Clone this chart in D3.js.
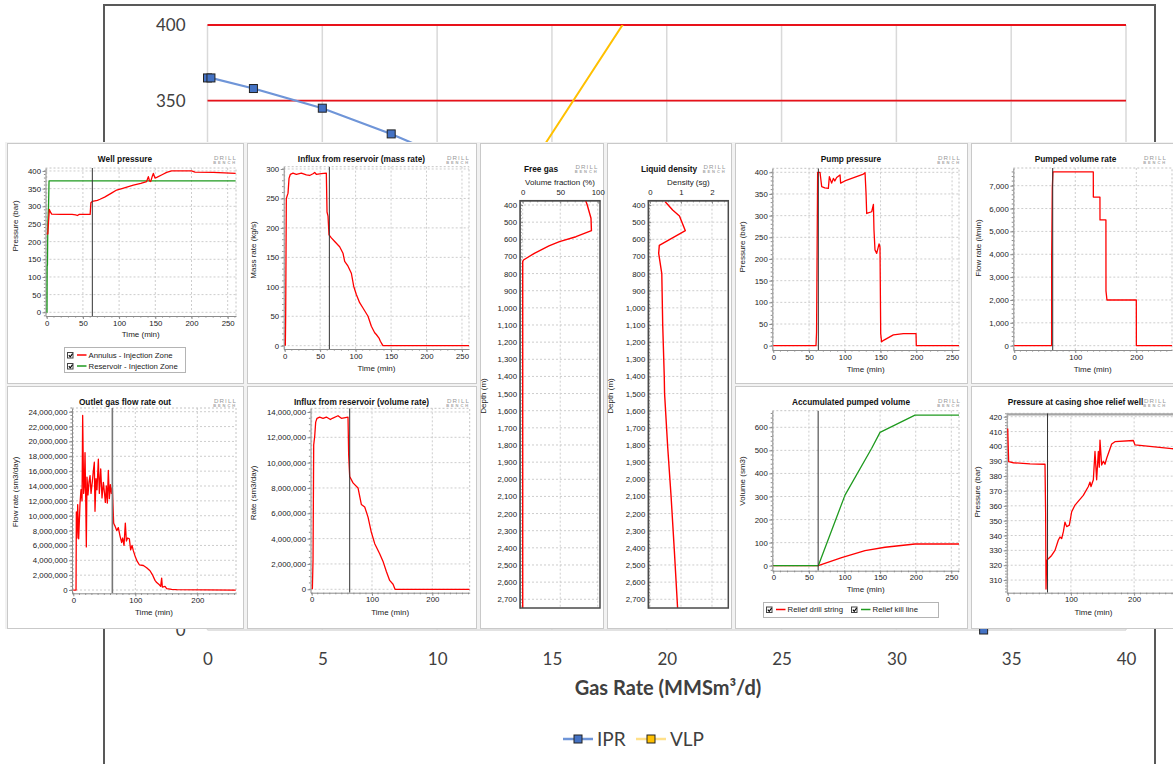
<!DOCTYPE html>
<html>
<head>
<meta charset="utf-8">
<script src="https://cdn.jsdelivr.net/npm/d3@7"></script>
<style>
  html, body { margin: 0; padding: 0; background: #fff; }
  svg { display: block; }
</style>
</head>
<body>
<svg id="chart" width="1173" height="764"></svg>
<script>
// ---- background IPR / VLP chart ----
const iprRate = [0, 0.15, 2, 5, 8, 12, 16, 20, 24, 28, 31, 33.8];
const iprPressure = [365, 365, 358, 345, 328, 302, 272, 237, 196, 145, 95, 0];
const vlpRate = [8, 11, 14, 20];
const vlpPressure = [170, 235, 305, 445];
const limitPressures = [350, 400];
const rateTicks = d3.range(0, 41, 5);
const pressureTicks = d3.range(0, 401, 50);
const pressureLabels = [0, 350, 400]; // the only ones not covered by the panels

// ---- simulator panels: [time (min), value] ----
const markerTime = 63;
const wellAnnulus = [[0,221],[1.5,222],[2.3,250],[3.6,291],[5,284],[6.9,278],[20,277],[35,277],[40,276],[42.3,274],[45,277],[60,277],[61,310],[63,314],[70,317],[73.6,320],[80,326],[90,338],[96.6,346],[105,351],[119.7,360],[130,365],[138,370],[140.4,384],[142,372],[143.6,370],[146,386],[147.3,393],[149.6,380],[152,382],[160,390],[165.7,396],[172.6,400],[200.2,400],[204.8,397],[230,396],[261,393]];
const wellReservoir = [[0,0],[0.4,0],[0.6,130],[1,135],[1.5,250],[2.5,300],[3.2,372],[261,372]];
const influxMass = [[0.9,0],[1.4,52],[2.3,250],[4.7,259],[6.1,284],[8,291],[11.7,293],[16.4,291],[23.5,293],[30.5,290],[35.2,289],[39.9,292],[42.3,294],[44.6,291],[51.7,292],[58.7,293],[59.7,227],[61.1,220],[62.5,188],[65.8,183],[70.5,177],[77.5,168],[82.2,157],[84.6,143],[89.3,135],[94,123],[97.3,101],[101,87],[105.7,73],[110.4,64],[117.5,50],[122.2,33],[126.9,22],[129.2,19],[133,13],[134.9,7.5],[137.7,1.8],[138.6,0],[260,0]];
const pumpPressure = [[0,0],[59.7,0],[60.5,31],[62,400],[65.3,400],[67.7,367],[72,364],[77,363],[78.4,390],[81.6,375],[84,386],[86,380],[88.6,388],[93.3,394],[94.2,375],[100,380],[126,396],[128.3,399],[129.7,351],[130.6,305],[137.6,309],[140,326],[140.8,267],[142.2,221],[144.6,213],[147.9,235],[149.2,228],[150.2,28],[151.5,9],[154.8,13],[167.9,25],[181.9,28],[199.6,28],[200,0],[260,0]];
const pumpedRate = [[0,0],[61.2,0],[61.3,3900],[62.3,6900],[63.4,7600],[129.5,7600],[129.6,6500],[140.4,6500],[140.5,5500],[150.2,5500],[150.3,2400],[151.9,2000],[200,2000],[200.1,0],[260,0]];
// outlet gas and influx volume rate in million sm3/day
const outletGas = [[0,0],[4.4,0],[4.9,10.5],[6,7],[7.1,11.5],[8.7,6.9],[10.8,11.6],[12.4,13.5],[14.1,12],[15.1,23.5],[16.7,13],[17.8,14],[18.9,18.5],[20,12.5],[21,5.8],[22.1,15.2],[23.7,12.8],[25.3,14.5],[27,15.4],[28.6,13],[30.7,14.6],[32.3,16],[33.9,17.2],[35,10.6],[36.6,15],[38.2,13.5],[40.4,17.6],[42,13],[44.2,16.3],[46.3,12.4],[48.5,14.5],[50.1,13.2],[51.7,11.8],[53.3,14],[54.9,11.7],[56.5,16.1],[58.1,12.3],[59.8,14.2],[61.4,13],[63,13.8],[64,11.4],[65.1,9],[67.3,8.6],[70,8],[72.6,8.4],[75.3,7.3],[78,6.4],[79.6,7],[81.8,6],[83.9,9],[85.6,6.6],[87.7,7],[90.4,6.9],[92.5,5.4],[94.7,6],[96.8,5.3],[99.5,4.6],[102.2,4],[106.5,3.4],[113,3.3],[118.3,3],[123.7,2.6],[128,2],[131.8,1.3],[134.5,1],[138.8,0.7],[140.9,0.5],[142.5,1.6],[143.6,0.4],[147.9,0.5],[150.6,0.2],[158.7,0.1],[166.7,0.05],[262,0]];
const influxVolume = [[1.1,0],[2.2,2.3],[3.3,11.4],[5,12.1],[6.6,13.2],[8.8,13.5],[13.2,13.6],[18.8,13.5],[24.3,13.6],[31,13.4],[34.2,13.5],[43.6,13.7],[49.2,13.5],[60.2,13.6],[61.3,10.6],[63,8.9],[68.5,8.4],[76.8,8],[82.3,6.7],[87.9,6.5],[93.4,5.7],[98.9,4.5],[104.5,3.6],[112.7,2.8],[118.3,2.2],[123.8,1.4],[129.3,0.7],[134.9,0.4],[138.2,0],[262,0]];
const accDrillString = [[0,0],[63.2,0],[96,35],[128.8,65],[156.9,80],[199,94],[261,94]];
const accKillLine = [[0,0],[63.2,0],[100.7,306],[138.2,509],[149.9,578],[199,653],[261,653]];
const casingShoe = [[0,412],[1.5,389.7],[8.9,389],[35.3,388.2],[59,388],[60,355],[60.6,304],[61.6,323],[64.3,324.4],[69.5,326.6],[74.8,330],[80,336.8],[82.7,339],[85.4,338],[88,342.4],[90.6,349],[93.3,346],[97.5,347],[101.2,356],[106.5,360.5],[119.6,367],[127.6,373],[130.2,376],[131.8,373],[135.5,377.5],[138.1,396.6],[140.7,377.5],[143.4,396.6],[144.9,386],[146,404.3],[148.6,387.5],[151.3,390],[153.9,388],[156.6,392],[164.5,401.6],[169.7,403.2],[198.8,404],[201.4,401],[259.4,398.5],[272,398]];
const casingLimit = 421.6;
// depth profiles: [depth (m), value]
const freeGas = [[375,84],[400,86],[477,91],[550,91.6],[585,71],[614,49],[639,35],[682,15.5],[721,1],[730,0],[2751,0]];
const liquidDensity = [[381,0.49],[429,0.73],[464,0.95],[550,1.14],[635,0.3],[682,0.28],[800,0.38],[1100,0.41],[1400,0.46],[1500,0.47],[1810,0.57],[2100,0.68],[2400,0.78],[2751,0.89]];

const RED = "#ff0000", GREEN = "#1f9a1f";
const svg = d3.select("#chart");
const panelFont = "'Liberation Sans', Arial, sans-serif";
const bgFont = "Lato, 'Open Sans', sans-serif";
const comma = d3.format(",");

// ================= background chart =================
const bx = d3.scaleLinear().domain([0, 40]).range([207.5, 1126]);
const by = d3.scaleLinear().domain([0, 400]).range([630, 25]);

svg.append("rect").attr("x", 104).attr("y", 5).attr("width", 1051).attr("height", 800)
    .attr("fill", "#fff").attr("stroke", "#595959").attr("stroke-width", 2);

const bg = svg.append("g");
bg.append("g").selectAll("line").data(rateTicks).join("line")
    .attr("x1", d => bx(d)).attr("x2", d => bx(d)).attr("y1", by(400)).attr("y2", by(0))
    .attr("stroke", "#d9d9d9").attr("stroke-width", 1.5);
bg.append("g").selectAll("line").data(pressureTicks).join("line")
    .attr("x1", bx(0)).attr("x2", bx(40)).attr("y1", d => by(d)).attr("y2", d => by(d))
    .attr("stroke", "#d9d9d9").attr("stroke-width", 1.5);
bg.append("g").selectAll("line").data(limitPressures).join("line")
    .attr("x1", bx(0)).attr("x2", bx(40)).attr("y1", d => by(d)).attr("y2", d => by(d))
    .attr("stroke", "#e8121a").attr("stroke-width", 1.8);

bg.append("g").attr("transform", `translate(${bx(0)},0)`)
    .call(d3.axisLeft(by).tickValues(pressureLabels).tickSize(0).tickPadding(22))
    .call(g => g.select(".domain").remove())
    .call(g => g.selectAll("text").attr("font-family", bgFont).attr("font-size", 17).attr("fill", "#404040"));
bg.append("g").attr("transform", `translate(0,${by(0)})`)
    .call(d3.axisBottom(bx).tickValues(rateTicks).tickSize(0).tickPadding(23))
    .call(g => g.select(".domain").remove())
    .call(g => g.selectAll("text").attr("font-family", bgFont).attr("font-size", 17).attr("fill", "#404040"));
bg.append("text").attr("x", 668).attr("y", 695).attr("text-anchor", "middle")
    .attr("font-family", bgFont).attr("font-size", 20).attr("font-weight", "bold").attr("fill", "#404040")
    .text("Gas Rate (MMSm³/d)");

bg.append("clipPath").attr("id", "bgclip").append("rect")
    .attr("x", bx(0) - 6).attr("y", by(400)).attr("width", bx(40) - bx(0) + 12).attr("height", by(0) - by(400) + 6);
const bgPlot = bg.append("g").attr("clip-path", "url(#bgclip)");
const ipr = iprRate.map((q, i) => [q, iprPressure[i]]);
const vlp = vlpRate.map((q, i) => [q, vlpPressure[i]]);
const bline = d3.line().x(d => bx(d[0])).y(d => by(d[1]));
bgPlot.append("path").attr("d", bline(vlp)).attr("fill", "none").attr("stroke", "#ffc000").attr("stroke-width", 2);
bgPlot.append("path").attr("d", bline(ipr)).attr("fill", "none").attr("stroke", "#6f95d8").attr("stroke-width", 2.2);
bgPlot.selectAll(".vm").data(vlp).join("rect").attr("class", "vm")
    .attr("x", d => bx(d[0]) - 4).attr("y", d => by(d[1]) - 4).attr("width", 8).attr("height", 8)
    .attr("fill", "#ffc000").attr("stroke", "#222");
bgPlot.selectAll(".im").data(ipr).join("rect").attr("class", "im")
    .attr("x", d => bx(d[0]) - 4).attr("y", d => by(d[1]) - 4).attr("width", 8).attr("height", 8)
    .attr("fill", "#4472c4").attr("stroke", "#222");

// legend
const bleg = bg.append("g").attr("font-family", bgFont).attr("font-size", 19).attr("fill", "#404040");
[["IPR", "#6f95d8", "#4472c4", 563], ["VLP", "#ffe08a", "#ffc000", 636]].forEach(([name, lc, mc, x0]) => {
    bleg.append("line").attr("x1", x0).attr("x2", x0 + 30).attr("y1", 739).attr("y2", 739)
        .attr("stroke", lc).attr("stroke-width", 2.5);
    bleg.append("rect").attr("x", x0 + 11).attr("y", 735).attr("width", 8).attr("height", 8)
        .attr("fill", mc).attr("stroke", "#222");
    bleg.append("text").attr("x", x0 + 34).attr("y", 746).text(name);
});

// ================= panels =================
// backing sheet behind the simulator screenshots
svg.append("rect").attr("x", 5).attr("y", 142).attr("width", 1170).attr("height", 487).attr("fill", "#f2f2f2");

function tile(g, t) {
    g.append("rect").attr("x", t[0] + 0.5).attr("y", t[1] + 0.5)
        .attr("width", t[2] - t[0]).attr("height", t[3] - t[1])
        .attr("fill", "#fff").attr("stroke", "#c9c9c9");
}

function logo(g, xr, y) {
    g.append("text").attr("x", xr).attr("y", y).attr("text-anchor", "end")
        .attr("font-size", 6.2).attr("letter-spacing", 1.1).attr("fill", "#9a9a9a").text("DRILL");
    g.append("text").attr("x", xr).attr("y", y + 4.2).attr("text-anchor", "end")
        .attr("font-size", 4).attr("font-weight", "bold").attr("letter-spacing", 1.9).attr("fill", "#a8a8a8").text("BENCH");
}

function minorRange(dom, step) {
    const lo = Math.min(dom[0], dom[1]), hi = Math.max(dom[0], dom[1]);
    return d3.range(Math.ceil(lo / step) * step, hi + 1e-9, step);
}

function styleAxis(g) {
    g.select(".domain").attr("stroke", "#8c8c8c");
    g.selectAll(".tick line").attr("stroke", "#8c8c8c");
    g.selectAll("text").attr("font-family", panelFont).attr("font-size", 7.8).attr("fill", "#222");
}

function checkbox(g, x, y) {
    g.append("rect").attr("x", x + 0.5).attr("y", y + 0.5).attr("width", 5.5).attr("height", 5.5)
        .attr("fill", "#fff").attr("stroke", "#444");
    g.append("path").attr("d", `M${x + 1.8},${y + 3.2} l1.4,1.6 l2.4,-3.2`)
        .attr("fill", "none").attr("stroke", "#000").attr("stroke-width", 1.1);
}

function timePanel(p, idx) {
    const g = svg.append("g").attr("font-family", panelFont);
    tile(g, p.tile);
    const b = p.box;
    const x = d3.scaleLinear().domain(p.xDomain).range([b.l, b.r]);
    const y = d3.scaleLinear().domain(p.yDomain).range([b.b, b.t]);

    // dashed grid
    g.append("g").selectAll("line").data(p.xTicks).join("line")
        .attr("x1", d => x(d)).attr("x2", d => x(d)).attr("y1", b.t).attr("y2", b.b)
        .attr("stroke", "#cdcdcd").attr("stroke-dasharray", "2,2");
    g.append("g").selectAll("line").data(p.yTicks).join("line")
        .attr("x1", b.l).attr("x2", b.r).attr("y1", d => y(d)).attr("y2", d => y(d))
        .attr("stroke", "#cdcdcd").attr("stroke-dasharray", "2,2");
    g.append("path").attr("d", `M${b.l},${b.t}H${b.r}V${b.b}`)
        .attr("fill", "none").attr("stroke", "#c4c4c4").attr("stroke-dasharray", "2,2");

    // minor ticks
    g.append("g").selectAll("line").data(minorRange(p.xDomain, p.xMinor)).join("line")
        .attr("x1", d => x(d)).attr("x2", d => x(d)).attr("y1", b.b).attr("y2", b.b + 1.6)
        .attr("stroke", "#8c8c8c");
    g.append("g").selectAll("line").data(minorRange(p.yDomain, p.yMinor)).join("line")
        .attr("x1", b.l - 1.6).attr("x2", b.l).attr("y1", d => y(d)).attr("y2", d => y(d))
        .attr("stroke", "#8c8c8c");

    g.append("g").attr("transform", `translate(0,${b.b})`)
        .call(d3.axisBottom(x).tickValues(p.xTicks).tickSize(3).tickSizeOuter(0).tickPadding(1.2))
        .call(styleAxis);
    g.append("g").attr("transform", `translate(${b.l},0)`)
        .call(d3.axisLeft(y).tickValues(p.yTicks).tickSize(3).tickSizeOuter(0).tickPadding(1.5)
            .tickFormat(p.yFormat || comma))
        .call(styleAxis);

    // curves
    const cid = "clip" + idx;
    g.append("clipPath").attr("id", cid).append("rect")
        .attr("x", b.l).attr("y", b.t).attr("width", b.r - b.l).attr("height", b.b - b.t);
    const plot = g.append("g").attr("clip-path", `url(#${cid})`);
    if (p.limit !== undefined) {
        plot.append("line").attr("x1", b.l).attr("x2", b.r).attr("y1", y(p.limit)).attr("y2", y(p.limit))
            .attr("stroke", "#a5a5a5").attr("stroke-width", 2.5);
    }
    const line = d3.line().x(d => x(d[0])).y(d => y(d[1]));
    p.series.forEach(s => {
        plot.append("path").attr("d", line(s.data)).attr("fill", "none")
            .attr("stroke", s.color).attr("stroke-width", 1.3).attr("stroke-linejoin", "round");
    });
    plot.append("line").attr("x1", x(markerTime)).attr("x2", x(markerTime)).attr("y1", b.t).attr("y2", b.b)
        .attr("stroke", p.markerColor || "#333").attr("stroke-width", p.markerWidth || 1);

    // texts
    const cx = (p.tile[0] + p.tile[2]) / 2;
    g.append("text").attr("x", cx).attr("y", p.tile[1] + 19).attr("text-anchor", "middle")
        .attr("font-size", 8.3).attr("font-weight", "bold").attr("fill", "#111").text(p.title);
    logo(g, Math.min(p.tile[2], 1173) - 6, p.tile[1] + 16.5);
    g.append("text").attr("x", (b.l + b.r) / 2).attr("y", b.b + (p.xLabelDy || 19) + 3)
        .attr("text-anchor", "middle").attr("font-size", 8).attr("fill", "#222").text("Time (min)");
    g.append("text").attr("transform", `translate(${p.yLabelPos[0] + 3},${p.yLabelPos[1]}) rotate(-90)`)
        .attr("text-anchor", "middle").attr("font-size", 8).attr("fill", "#222").text(p.yLabel);

    if (p.legend) {
        const L = p.legend;
        const lg = g.append("g");
        lg.append("rect").attr("x", L.box[0] + 0.5).attr("y", L.box[1] + 0.5)
            .attr("width", L.box[2] - L.box[0]).attr("height", L.box[3] - L.box[1])
            .attr("fill", "#fff").attr("stroke", "#b4b4b4");
        L.items.forEach(it => {
            checkbox(lg, it.x, it.y - 3);
            lg.append("line").attr("x1", it.x + 10).attr("x2", it.x + 19.5).attr("y1", it.y).attr("y2", it.y)
                .attr("stroke", it.color).attr("stroke-width", 1.5);
            lg.append("text").attr("x", it.x + 21.5).attr("y", it.y + 2.8).attr("font-size", 7.8)
                .attr("fill", "#222").text(it.label);
        });
    }
}

function depthPanel(p, idx) {
    const g = svg.append("g").attr("font-family", panelFont);
    tile(g, p.tile);
    const b = p.box;
    const x = d3.scaleLinear().domain(p.xDomain).range([b.l, b.r]);
    const y = d3.scaleLinear().domain(p.yDomain).range([b.t, b.b]);

    g.append("g").selectAll("line").data(p.xTicks).join("line")
        .attr("x1", d => x(d)).attr("x2", d => x(d)).attr("y1", b.t).attr("y2", b.b)
        .attr("stroke", "#cdcdcd").attr("stroke-dasharray", "2,2");
    g.append("g").selectAll("line").data(p.yTicks).join("line")
        .attr("x1", b.l).attr("x2", b.r).attr("y1", d => y(d)).attr("y2", d => y(d))
        .attr("stroke", "#cdcdcd").attr("stroke-dasharray", "2,2");

    g.append("g").selectAll("line").data(minorRange(p.yDomain, 20)).join("line")
        .attr("x1", b.l).attr("x2", b.l + 1.6).attr("y1", d => y(d)).attr("y2", d => y(d))
        .attr("stroke", "#777");
    g.append("g").selectAll("line").data(minorRange(p.xDomain, p.xMinor)).join("line")
        .attr("x1", d => x(d)).attr("x2", d => x(d)).attr("y1", b.t).attr("y2", b.t + 1.6)
        .attr("stroke", "#777");

    g.append("g").attr("transform", `translate(0,${b.t})`)
        .call(d3.axisTop(x).tickValues(p.xTicks).tickSize(-3).tickSizeOuter(0).tickPadding(6).tickFormat(comma))
        .call(styleAxis);
    g.append("g").attr("transform", `translate(${b.l},0)`)
        .call(d3.axisLeft(y).tickValues(p.yTicks).tickSize(-3).tickSizeOuter(0).tickPadding(3).tickFormat(comma))
        .call(styleAxis);

    const cid = "dclip" + idx;
    g.append("clipPath").attr("id", cid).append("rect")
        .attr("x", b.l).attr("y", b.t).attr("width", b.r - b.l).attr("height", b.b - b.t);
    const line = d3.line().x(d => x(d[1])).y(d => y(d[0]));
    g.append("g").attr("clip-path", `url(#${cid})`).append("path").attr("d", line(p.data))
        .attr("fill", "none").attr("stroke", RED).attr("stroke-width", 1.4).attr("stroke-linejoin", "round");
    g.append("rect").attr("x", b.l).attr("y", b.t).attr("width", b.r - b.l).attr("height", b.b - b.t)
        .attr("fill", "none").attr("stroke", "#4a4a4a").attr("stroke-width", 1.5);

    g.append("text").attr("x", p.titleX).attr("y", 172).attr("text-anchor", "middle")
        .attr("font-size", 8.3).attr("font-weight", "bold").attr("fill", "#111").text(p.title);
    logo(g, p.tile[2] - 4.5, 168.5);
    g.append("text").attr("x", (b.l + b.r) / 2).attr("y", 185).attr("text-anchor", "middle")
        .attr("font-size", 8).attr("fill", "#222").text(p.xLabel);
    g.append("text").attr("transform", `translate(${p.tile[0] + 6},396) rotate(-90)`)
        .attr("text-anchor", "middle").attr("font-size", 8).attr("fill", "#222").text("Depth (m)");
}

const millions = d => comma(Math.round(d * 1e6));

const timePanels = [
    { title: "Well pressure", tile: [7, 143, 243, 383], box: { l: 45.5, r: 236, t: 168, b: 316 },
      xDomain: [-1.7, 261.5], yDomain: [-10.5, 408.4], xTicks: d3.range(0, 251, 50), yTicks: d3.range(0, 401, 50),
      xMinor: 10, yMinor: 10, yLabel: "Pressure (bar)", yLabelPos: [15, 226], xLabelDy: 18.2,
      series: [{ data: wellReservoir, color: GREEN }, { data: wellAnnulus, color: RED }],
      legend: { box: [64, 347, 185, 372], items: [
          { x: 67, y: 355, color: RED, label: "Annulus - Injection Zone" },
          { x: 67, y: 366, color: GREEN, label: "Reservoir - Injection Zone" }] } },
    { title: "Influx from reservoir (mass rate)", tile: [247, 143, 476, 383], box: { l: 283.7, r: 469, t: 166.7, b: 349 },
      xDomain: [-1.4, 259.9], yDomain: [-5.6, 303.9], xTicks: d3.range(0, 251, 50), yTicks: d3.range(0, 301, 50),
      xMinor: 10, yMinor: 10, yLabel: "Mass rate (kg/s)", yLabelPos: [253, 250],
      series: [{ data: influxMass, color: RED }] },
    { title: "Pump pressure", tile: [735, 143, 967, 383], box: { l: 772.3, r: 959, t: 168.3, b: 350 },
      xDomain: [-1.4, 259.7], yDomain: [-9.9, 409.2], xTicks: d3.range(0, 251, 50), yTicks: d3.range(0, 401, 50),
      xMinor: 10, yMinor: 10, yLabel: "Pressure (bar)", yLabelPos: [742.3, 247],
      series: [{ data: pumpPressure, color: RED }] },
    { title: "Pumped volume rate", tile: [971, 143, 1180, 383], box: { l: 1013.3, r: 1172, t: 168, b: 350 },
      xDomain: [-1.6, 258.5], yDomain: [-188, 7773], xTicks: [0, 100, 200], yTicks: d3.range(0, 7001, 1000),
      xMinor: 10, yMinor: 200, yLabel: "Flow rate (l/min)", yLabelPos: [977.7, 248],
      series: [{ data: pumpedRate, color: RED }] },
    { title: "Outlet gas flow rate out", tile: [7, 386, 243, 628], box: { l: 72, r: 236, t: 408, b: 593.3 },
      xDomain: [-2.1, 262.4], yDomain: [-0.44, 24.5], xTicks: [0, 100, 200], yTicks: d3.range(0, 24.1, 2),
      xMinor: 10, yMinor: 0.5, yLabel: "Flow rate (sm3/day)", yLabelPos: [15, 492], yFormat: millions,
      markerColor: "#777", markerWidth: 1.6,
      series: [{ data: outletGas, color: RED }] },
    { title: "Influx from reservoir (volume rate)", tile: [247, 386, 476, 628], box: { l: 310.5, r: 469.7, t: 408.3, b: 592.7 },
      xDomain: [-2, 262], yDomain: [-0.27, 14.29], xTicks: [0, 100, 200], yTicks: d3.range(0, 14.1, 2),
      xMinor: 10, yMinor: 0.5, yLabel: "Rate (sm3/day)", yLabelPos: [253, 493], yFormat: millions,
      series: [{ data: influxVolume, color: RED }] },
    { title: "Accumulated pumped volume", tile: [735, 386, 967, 628], box: { l: 772.3, r: 959, t: 410.7, b: 570.7 },
      xDomain: [-1.4, 260.8], yDomain: [-21.7, 672], xTicks: d3.range(0, 251, 50), yTicks: d3.range(0, 601, 100),
      xMinor: 10, yMinor: 20, yLabel: "Volume (sm3)", yLabelPos: [742.3, 481], xLabelDy: 18.6,
      series: [{ data: accDrillString, color: RED }, { data: accKillLine, color: GREEN }],
      legend: { box: [763, 602, 938, 617], items: [
          { x: 766, y: 609.5, color: RED, label: "Relief drill string" },
          { x: 851, y: 609.5, color: GREEN, label: "Relief kill line" }] } },
    { title: "Pressure at casing shoe relief well", tile: [971, 386, 1180, 628], box: { l: 1006.7, r: 1180, t: 413.3, b: 592.7 },
      xDomain: [-1.6, 272.6], yDomain: [301.5, 422.3], xTicks: [0, 100, 200], yTicks: d3.range(310, 421, 10),
      xMinor: 10, yMinor: 2, yLabel: "Pressure (bar)", yLabelPos: [976.7, 492], limit: casingLimit,
      series: [{ data: casingShoe, color: RED }] }
];

const depthPanels = [
    { title: "Free gas", titleX: 541, xLabel: "Volume fraction (%)", tile: [480, 143, 603, 628],
      box: { l: 520, r: 600, t: 200.7, b: 608 }, xDomain: [-3.6, 103], xTicks: [0, 50, 100], xMinor: 10,
      yDomain: [374.9, 2751], yTicks: d3.range(400, 2701, 100), data: freeGas },
    { title: "Liquid density", titleX: 669, xLabel: "Density (sg)", tile: [607, 143, 731, 628],
      box: { l: 648.3, r: 728.3, t: 200.7, b: 608 }, xDomain: [-0.055, 2.526], xTicks: [0, 1, 2], xMinor: 0.2,
      yDomain: [374.9, 2751], yTicks: d3.range(400, 2701, 100), data: liquidDensity }
];

timePanels.forEach(timePanel);
depthPanels.forEach(depthPanel);
</script>
</body>
</html>
